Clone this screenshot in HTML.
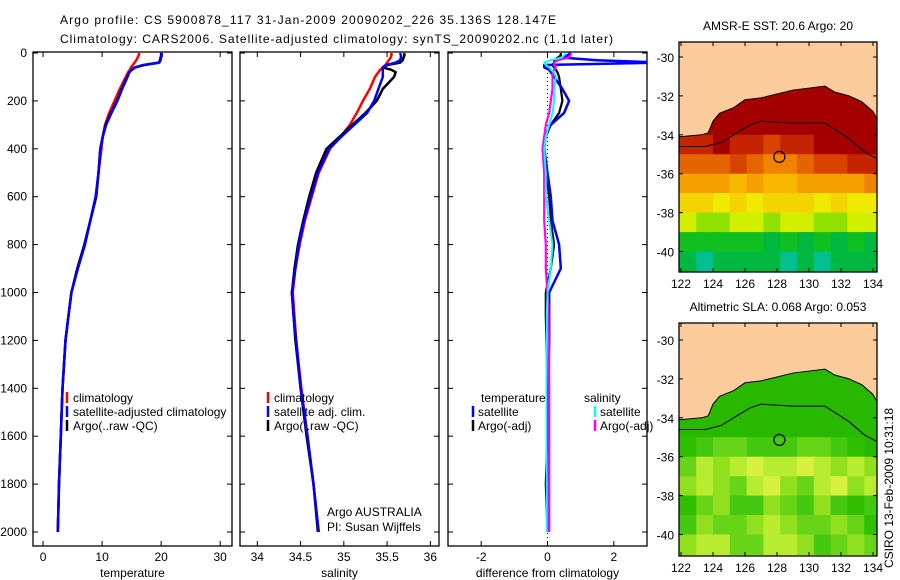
<!DOCTYPE html>
<html><head><meta charset="utf-8">
<style>
body{margin:0;background:#fff;}
svg{display:block;font-family:"Liberation Sans",sans-serif;}
text{font-size:12px;fill:#000;}
</style></head>
<body>
<svg id="c" width="900" height="580" viewBox="0 0 900 580"></svg>
<script>
// ---- profile data ----
const depths=[0,10,20,30,40,50,60,70,80,100,150,200,250,300,350,400,500,600,700,800,900,1000,1100,1200,1400,1600,1800,2000];
const tempArgo=[20,20,19.9,19.8,19.6,17,15.5,15,14.6,14.2,13.3,12.5,11.5,10.6,10.1,9.7,9.4,9.0,8,7,5.8,4.8,4.3,3.8,3.3,3,2.7,2.5];
const tempClim=[16.3,16.2,16,15.8,15.5,15.2,14.9,14.7,14.4,14,13,12.1,11.2,10.5,10.1,9.9,9.4,9.0,8,7,5.8,4.8,4.3,3.8,3.3,3,2.7,2.5];
const tempSat=[20.1,20.1,20,19.9,19.7,17.2,15.6,15.1,14.6,14.3,13.4,12.6,11.6,10.7,10.1,9.7,9.4,8.9,8,7.1,5.9,4.8,4.3,3.8,3.3,3,2.7,2.5];
const salArgo=[35.7,35.7,35.69,35.68,35.65,35.5,35.45,35.55,35.6,35.58,35.45,35.38,35.25,35.1,34.95,34.8,34.68,34.6,34.53,34.47,34.43,34.4,34.42,34.44,34.5,34.57,34.65,34.7];
const salSat=[35.65,35.66,35.66,35.65,35.6,35.5,35.45,35.45,35.45,35.45,35.4,35.35,35.27,35.12,34.97,34.83,34.7,34.62,34.54,34.48,34.44,34.4,34.42,34.45,34.5,34.58,34.65,34.71];
const salClim=[35.55,35.55,35.54,35.52,35.5,35.48,35.45,35.42,35.4,35.36,35.3,35.22,35.15,35.07,34.96,34.84,34.71,34.63,34.55,34.49,34.44,34.41,34.43,34.45,34.51,34.58,34.65,34.71];
const diffTempSat=[0.7,0.6,0.5,1.5,3.5,-0.1,-0.1,0.05,0.1,0.2,0.45,0.65,0.5,0.1,-0.1,-0.1,0,0.1,0.15,0.35,0.4,0.05,0.05,0.05,0.03,0.03,0.03,0.03];
const diffTempArgo=[0.4,0.4,0.3,0.2,0.2,0.15,0.2,0.25,0.3,0.35,0.4,0.45,0.35,0.1,-0.05,-0.1,-0.05,0.05,0.1,0.2,0.1,-0.05,-0.05,-0.03,0,0,-0.05,0];
const diffSalSat=[0.55,0.5,0.4,0.1,-0.1,-0.05,0.05,0.1,0.2,0.25,0.2,0.2,0.15,0.05,-0.05,-0.1,-0.05,-0.05,0.05,0.15,0.1,0,-0.02,-0.02,-0.03,-0.03,-0.02,-0.02];
const diffSalArgo=[0.7,0.7,0.6,0.3,0.2,0.2,0.25,0.2,0.15,0.15,0.15,0.1,0.05,-0.05,-0.1,-0.15,-0.1,-0.1,-0.1,-0.05,-0.05,0,0.03,0.04,0.05,0.05,0.05,0.05];
const depthTicks=[0,200,400,600,800,1000,1200,1400,1600,1800,2000];
const tempTicks=[0,10,20,30];
const salTicks=[34,34.5,35,35.5,36];
const salTickLabels=["34","34.5","35","35.5","36"];
const diffTicks=[-2,0,2];
// ---- map data (rows lat -31..-41 step 1, cols lon 122..134) ----
const sstRows=[
[22,22,22,22,22,22,22,22,22,22,22,22],
[22,22,22,22,22,22,22,22,22,22,22,22],
[22,22,22,22,22,22,22,22,22,22,22,22],
[21,21,21.5,21,21,20.5,21,21,21.5,21.5,21.5,21.5],
[20,20,20,20.5,20,19.5,19.5,20,20.5,20.5,21,21],
[19,19,19,18.5,19,18.5,18.5,19,19,19,19,19.5],
[18,18,17.5,18,17.5,18,18,18,17.5,18,17.5,17.5],
[17,16.5,16.5,17,17,16.5,17,17,16.5,16.5,17,17],
[15.5,15.5,15.5,15.5,15.5,15,15.5,15,15.5,15,15.5,15],
[15,14.6,15,15,15,15,14.8,15,14.6,15,15,15]];
const slaRows=[
[0.05,0.05,0.05,0.05,0.05,0.05,0.05,0.05,0.05,0.05,0.05,0.05],
[0.05,0.05,0.05,0.05,0.05,0.05,0.05,0.05,0.05,0.05,0.05,0.05],
[0.04,0.04,0.04,0.04,0.04,0.04,0.04,0.04,0.04,0.04,0.04,0.04],
[0.05,0.05,0.05,0.04,0.04,0.04,0.04,0.04,0.04,0.04,0.04,0.04],
[0.06,0.07,0.08,0.08,0.07,0.07,0.07,0.08,0.08,0.07,0.06,0.05],
[0.08,0.1,0.09,0.1,0.11,0.1,0.1,0.11,0.1,0.09,0.1,0.09],
[0.09,0.1,0.09,0.08,0.1,0.11,0.09,0.08,0.1,0.11,0.09,0.1],
[0.06,0.08,0.09,0.07,0.07,0.09,0.08,0.07,0.09,0.07,0.06,0.07],
[0.07,0.09,0.08,0.08,0.09,0.1,0.09,0.08,0.08,0.09,0.08,0.06],
[0.09,0.1,0.1,0.08,0.08,0.1,0.1,0.09,0.07,0.08,0.09,0.08]];
const latTicks=[-30,-32,-34,-36,-38,-40];
const lonTicks=[122,124,126,128,130,132,134];
const coast=[[121.9,-34.1],[123.3,-34],[123.7,-33.9],[124,-33.3],[124.4,-32.9],[125.3,-32.6],[126,-32.2],[127,-32.1],[128,-31.9],[129,-31.7],[131,-31.5],[131.6,-31.8],[132.5,-32],[133.3,-32.3],[134,-32.8],[134.2,-33.1]];
const contour=[[121.9,-34.6],[123.5,-34.6],[124.5,-34.4],[125.5,-33.9],[126.3,-33.5],[127,-33.3],[129,-33.4],[131,-33.4],[132.5,-34.2],[133.5,-34.9],[134.2,-35.2]];
const argoLon=128.147, argoLat=-35.136;

const NS="http://www.w3.org/2000/svg";
const svg=document.getElementById('c');
function mk(tag,attrs,parent){const e=document.createElementNS(NS,tag);for(const k in attrs)e.setAttribute(k,attrs[k]);(parent||svg).appendChild(e);return e;}
function txt(x,y,s,anchor,parent,size){const e=mk('text',{x:x,y:y,'text-anchor':anchor||'start'},parent);if(size)e.setAttribute('font-size',size);e.textContent=s;return e;}

// titles
let t=txt(60,24,"Argo profile: CS 5900878_117 31-Jan-2009 20090202_226 35.136S 128.147E",'start',null,'14px');
t.setAttribute('textLength','496');


t=txt(60,43,"Climatology: CARS2006. Satellite-adjusted climatology: synTS_20090202.nc (1.1d later)",'start',null,'14px');
t.setAttribute('textLength','553');



const yD=d=>53+d*0.2395;
function panel(name,x0,x1,xmin,xmax,ticks,tickLabels,xlabel,showY){
  const g=mk('g',{});
  
  
  const sx=v=>x0+(v-xmin)/(xmax-xmin)*(x1-x0);
  const r=mk('rect',{x:x0,y:52,width:x1-x0,height:494,fill:'none',stroke:'#000','stroke-width':1.3},g);
  
  
  ticks.forEach((v,i)=>{const x=sx(v);
    mk('line',{x1:x,x2:x,y1:546,y2:541,stroke:'#000'},g);mk('line',{x1:x,x2:x,y1:52,y2:57,stroke:'#000'},g);
    const l=txt(x,561,tickLabels[i],'middle',g);
    
    });
  depthTicks.forEach(d=>{const y=yD(d);
    mk('line',{x1:x0,x2:x0+5,y1:y,y2:y,stroke:'#000'},g);mk('line',{x1:x1,x2:x1-5,y1:y,y2:y,stroke:'#000'},g);
    if(showY){const l=txt(27,y+4,String(d),'end',g);
      
      }});
  const xl=txt((x0+x1)/2,577,xlabel,'middle',g);
  
  
  return {g,sx};
}
function line(p,vals,color,name,w){
  const pts=vals.map((v,i)=>p.sx(v).toFixed(1)+','+yD(depths[i]).toFixed(1)).join(' ');
  const e=mk('polyline',{points:pts,fill:'none',stroke:color,'stroke-width':w||2.5,'stroke-linejoin':'round'},p.g);
  
  
}
function legBar(g,x,y,color){mk('line',{x1:x,x2:x,y1:y-10,y2:y+1,stroke:color,'stroke-width':2.5},g);}

// panel 1
const p1=panel('temperature-panel',33,232,-1.7,32,tempTicks,tempTicks.map(String),'temperature',true);
line(p1,tempClim,'#f00','climatology-temp-line');
line(p1,tempArgo,'#000','argo-temp-line');
line(p1,tempSat,'#00f','satellite-adj-temp-line');
[['climatology','#f00',402],['satellite-adjusted climatology','#00f',416],['Argo(..raw -QC)','#000',430]].forEach(a=>{legBar(p1.g,67,a[2],a[1]);const l=txt(73,a[2],a[0],'start',p1.g);
  
  });

// panel 2
const p2=panel('salinity-panel',240,439,33.8,36.1,salTicks,salTickLabels,'salinity',false);
line(p2,salClim,'#f00','climatology-sal-line');
line(p2,salArgo,'#000','argo-sal-line');
line(p2,salSat,'#00f','satellite-adj-sal-line');
[['climatology','#f00',402],['satellite adj. clim.','#00f',416],['Argo(..raw -QC)','#000',430]].forEach(a=>{legBar(p2.g,268,a[2],a[1]);const l=txt(274,a[2],a[0],'start',p2.g);
  
  });
t=txt(327,516,'Argo AUSTRALIA','start',p2.g);


t=txt(327,531,'PI: Susan Wijffels','start',p2.g);



// panel 3
const p3=panel('difference-panel',448,647,-3,3,diffTicks,diffTicks.map(String),'difference from climatology',false);
mk('line',{x1:p3.sx(0),x2:p3.sx(0),y1:53,y2:546,stroke:'#000','stroke-dasharray':'1,3'},p3.g);
const clip=mk('clipPath',{id:'cp3'});mk('rect',{x:448,y:52,width:199,height:494},clip);
const p3lines=mk('g',{'clip-path':'url(#cp3)'},p3.g);
const p3c={g:p3lines,sx:p3.sx};
line(p3c,diffTempArgo,'#000','diff-temp-argo-line',2.2);
line(p3c,diffTempSat,'#00f','diff-temp-satellite-line',2.5);
line(p3c,diffSalArgo,'#f0f','diff-sal-argo-line',2.2);
line(p3c,diffSalSat,'#0ff','diff-sal-satellite-line',2);
[['temperature',481,402,null],['satellite',478,416,'#00f'],['Argo(-adj)',478,430,'#000'],['salinity',584,402,null],['satellite',600,416,'#0ff'],['Argo(-adj)',600,430,'#f0f']].forEach(a=>{if(a[3])legBar(p3.g,a[1]-5,a[2],a[3]);const l=txt(a[1],a[2],a[0],'start',p3.g);
  
  });

// maps
function sstColor(v){const s=[[21.5,'#a40000'],[21,'#c42400'],[20.5,'#d84400'],[20,'#e46400'],[19.5,'#f08400'],[19,'#f4a000'],[18.5,'#f8b800'],[18,'#f4d400'],[17.5,'#f0ea00'],[17,'#d0f000'],[16.5,'#90e000'],[16,'#50d010'],[15.5,'#10c020'],[15,'#00b840'],[0,'#00c090']];for(const c of s)if(v>=c[0])return c[1];}
function slaColor(v){const s=[[0.11,'#d8f040'],[0.1,'#b8ec30'],[0.09,'#90e020'],[0.08,'#68d418'],[0.07,'#44c810'],[0.06,'#30c000'],[0,'#28b800']];for(const c of s)if(v>=c[0])return c[1];}
function map(name,y0,y1,latY0,title,rows,colorFn){
  const g=mk('g',{});
  
  
  const X=lon=>681+(lon-122)*16, Y=lat=>latY0+(-30-lat)*19.45;
  const cid=name+'-clip';const cp=mk('clipPath',{id:cid},g);mk('rect',{x:679,y:y0,width:198,height:y1-y0},cp);
  const inner=mk('g',{'clip-path':'url(#'+cid+')'},g);
  mk('rect',{x:679,y:y0,width:198,height:y1-y0,fill:'#fccc9c'},inner);
  rows.forEach((row,r)=>row.forEach((v,c)=>{const cell=mk('rect',{x:X(121.9+c*1.05),y:Y(-31-r),width:17.5,height:20.5,fill:colorFn(v)},inner);
    
    }));
  const land=[[121,-28]].concat(coast).concat([[135,-33],[135,-28]]);
  const lp=mk('polygon',{points:land.map(p=>X(p[0])+','+Y(p[1])).join(' '),fill:'#fccc9c',stroke:'#000','stroke-width':1},inner);
  
  
  const cl=mk('polyline',{points:contour.map(p=>X(p[0])+','+Y(p[1])).join(' '),fill:'none',stroke:'#000','stroke-width':1},inner);
  
  
  const ci=mk('circle',{cx:X(argoLon),cy:Y(argoLat),r:5.5,fill:'none',stroke:'#000','stroke-width':1.2},g);
  
  
  mk('rect',{x:679,y:y0,width:198,height:y1-y0,fill:'none',stroke:'#000','stroke-width':1.3},g);
  latTicks.forEach(l=>{const y=Y(l);mk('line',{x1:679,x2:683,y1:y,y2:y,stroke:'#000'},g);mk('line',{x1:877,x2:873,y1:y,y2:y,stroke:'#000'},g);
    const e=txt(674,y+5,String(l),'end',g,'13px');
    
    });
  lonTicks.forEach(l=>{const x=X(l);mk('line',{x1:x,x2:x,y1:y1,y2:y1-4,stroke:'#000'},g);mk('line',{x1:x,x2:x,y1:y0,y2:y0+4,stroke:'#000'},g);
    const e=txt(x,y1+16,String(l),'middle',g,'13px');
    
    });
  const tt=txt(778,y0-12,title,'middle',g);
  
  
}
map('sst-map',42,272,57,'AMSR-E SST: 20.6 Argo: 20',sstRows,sstColor);
map('sla-map',323,556,340,'Altimetric SLA: 0.068 Argo: 0.053',slaRows,slaColor);

t=mk('text',{x:0,y:0,transform:'translate(893,568) rotate(-90)','font-size':'12px'});
t.textContent='CSIRO 13-Feb-2009 10:31:18';


</script>
</body></html>
